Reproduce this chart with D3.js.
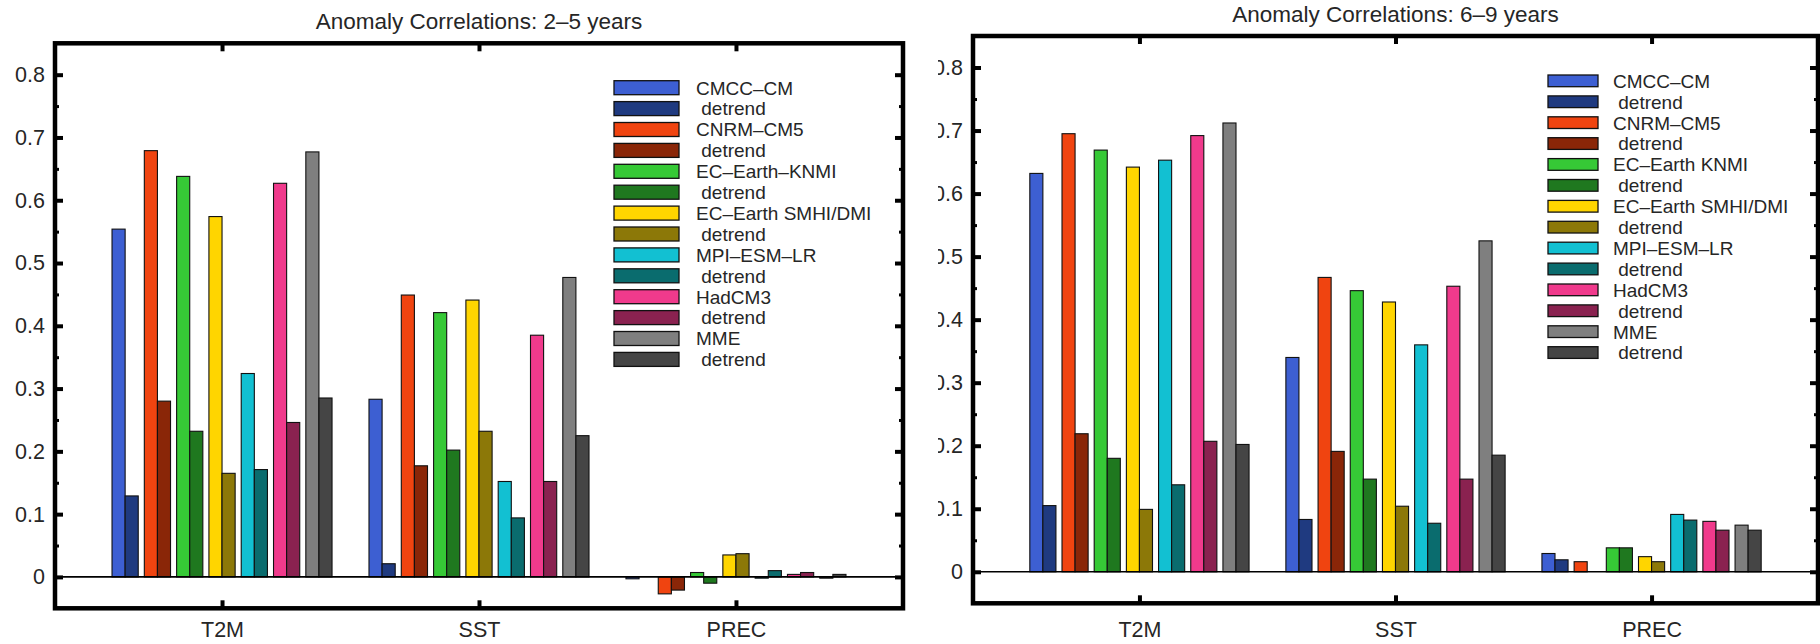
<!DOCTYPE html>
<html>
<head>
<meta charset="utf-8">
<script src="https://cdn.jsdelivr.net/npm/d3@7"></script>
<style>
  html, body { margin: 0; padding: 0; background: #fff; }
  svg { display: block; }
  text { font-family: "Liberation Sans", Arial, Helvetica, sans-serif; fill: #262626; }
</style>
</head>
<body>
<svg id="fig" width="1820" height="644"></svg>
<script>
// Categories along the x axis
const categories = ["T2M", "SST", "PREC"];

// y axis ticks
const yTicks = [0, 0.1, 0.2, 0.3, 0.4, 0.5, 0.6, 0.7, 0.8];
const yTickLabels = ["0", "0.1", "0.2", "0.3", "0.4", "0.5", "0.6", "0.7", "0.8"];
const yMinorTicks = [0.05, 0.15, 0.25, 0.35, 0.45, 0.55, 0.65, 0.75];

// One colour per series (model, then its detrended version)
const seriesColors = [
  "#3d5fd2", "#1f3a80",
  "#f04410", "#8a2608",
  "#36c936", "#1f781f",
  "#ffd500", "#8c7808",
  "#12c0d2", "#0a6c6e",
  "#f03a8c", "#8a2250",
  "#7f7f7f", "#454545"
];

const legendLabels25 = ["CMCC\u2013CM", " detrend", "CNRM\u2013CM5", " detrend", "EC\u2013Earth\u2013KNMI", " detrend",
  "EC\u2013Earth SMHI/DMI", " detrend", "MPI\u2013ESM\u2013LR", " detrend", "HadCM3", " detrend", "MME", " detrend"];
const legendLabels69 = ["CMCC\u2013CM", " detrend", "CNRM\u2013CM5", " detrend", "EC\u2013Earth KNMI", " detrend",
  "EC\u2013Earth SMHI/DMI", " detrend", "MPI\u2013ESM\u2013LR", " detrend", "HadCM3", " detrend", "MME", " detrend"];

// Anomaly correlations, lead years 2-5
const t2m25  = [0.554, 0.129, 0.679, 0.280, 0.638, 0.232, 0.574, 0.165, 0.324, 0.171, 0.627, 0.246, 0.677, 0.285];
const sst25  = [0.283, 0.021, 0.449, 0.177, 0.421, 0.202, 0.441, 0.232, 0.152, 0.094, 0.385, 0.152, 0.477, 0.225];
const prec25 = [-0.003, 0.000, -0.027, -0.021, 0.007, -0.010, 0.035, 0.037, -0.002, 0.010, 0.004, 0.007, -0.002, 0.004];

// Anomaly correlations, lead years 6-9
const t2m69  = [0.632, 0.105, 0.695, 0.219, 0.669, 0.180, 0.642, 0.099, 0.653, 0.138, 0.692, 0.207, 0.712, 0.202];
const sst69  = [0.340, 0.083, 0.467, 0.191, 0.446, 0.147, 0.428, 0.104, 0.360, 0.077, 0.453, 0.147, 0.525, 0.185];
const prec69 = [0.029, 0.019, 0.016, 0.000, 0.038, 0.038, 0.024, 0.016, 0.091, 0.082, 0.080, 0.066, 0.074, 0.066];

const panels = [
  {
    title: "Anomaly Correlations: 2\u20135 years",
    values: [t2m25, sst25, prec25],
    labels: legendLabels25,
    box: { left: 55, right: 903, top: 43.3, bottom: 608.3 },
    titleY: 29,
    legend: { x: 614, y: 80.7, w: 65, h: 14, pitch: 20.9, textX: 696 },
    clipLeft: 0
  },
  {
    title: "Anomaly Correlations: 6\u20139 years",
    values: [t2m69, sst69, prec69],
    labels: legendLabels69,
    box: { left: 973, right: 1818, top: 36, bottom: 603.3 },
    titleY: 22,
    legend: { x: 1548, y: 75, w: 50, h: 11.7, pitch: 20.9, textX: 1613 },
    clipLeft: 938
  }
];

const categoryBaseline = 637;

const svg = d3.select("#fig");
svg.append("rect").attr("width", 1820).attr("height", 644).attr("fill", "#fff");

const pairPitch = 0.1257;  // distance between model pairs, in category units
const barWidth = 0.051;    // width of one bar, in category units

panels.forEach((p, pi) => {
  const b = p.box;
  const x = d3.scaleLinear().domain([0.35, 3.65]).range([b.left, b.right]);
  const y = d3.scaleLinear().domain([-0.05, 0.85]).range([b.bottom, b.top]);

  const clipId = "clip" + pi;
  svg.append("clipPath").attr("id", clipId)
    .append("rect").attr("x", p.clipLeft).attr("y", 0).attr("width", 1820).attr("height", 644);

  const g = svg.append("g").attr("clip-path", `url(#${clipId})`);

  // Title
  g.append("text")
    .attr("x", (b.left + b.right) / 2)
    .attr("y", p.titleY)
    .attr("text-anchor", "middle")
    .style("font-size", "22.5px")
    .text(p.title);

  // Bars
  const bars = [];
  p.values.forEach((vals, ci) => {
    vals.forEach((v, si) => {
      const k = Math.floor(si / 2), j = si % 2;
      const center = (ci + 1) + (k - 3) * pairPitch + (j - 0.5) * barWidth;
      bars.push({ x0: center - barWidth / 2, x1: center + barWidth / 2, v, si });
    });
  });
  g.append("g").selectAll("rect").data(bars).join("rect")
    .attr("x", d => x(d.x0))
    .attr("width", d => x(d.x1) - x(d.x0))
    .attr("y", d => y(Math.max(0, d.v)))
    .attr("height", d => Math.abs(y(d.v) - y(0)))
    .attr("fill", d => seriesColors[d.si])
    .attr("stroke", "#111")
    .attr("stroke-width", 1.1);

  // Zero baseline across the axes
  g.append("line")
    .attr("x1", b.left).attr("x2", b.right)
    .attr("y1", y(0)).attr("y2", y(0))
    .attr("stroke", "#000").attr("stroke-width", 1.6);

  // Left axis: major ticks with labels
  const left = g.append("g").attr("transform", `translate(${b.left},0)`)
    .call(d3.axisLeft(y).tickValues(yTicks)
      .tickFormat((d, i) => yTickLabels[i])
      .tickSizeInner(-8).tickSizeOuter(0).tickPadding(10));
  left.select(".domain").remove();
  left.selectAll(".tick line").attr("stroke", "#000").attr("stroke-width", 4);
  left.selectAll(".tick text").style("font-size", "21.5px").attr("fill", "#262626");

  // Left axis minor ticks
  const leftMinor = g.append("g").attr("transform", `translate(${b.left},0)`)
    .call(d3.axisLeft(y).tickValues(yMinorTicks).tickFormat("").tickSizeInner(-4).tickSizeOuter(0));
  leftMinor.select(".domain").remove();
  leftMinor.selectAll(".tick line").attr("stroke", "#000").attr("stroke-width", 3);

  // Right border ticks
  const right = g.append("g").attr("transform", `translate(${b.right},0)`)
    .call(d3.axisRight(y).tickValues(yTicks).tickFormat("").tickSizeInner(-8).tickSizeOuter(0));
  right.select(".domain").remove();
  right.selectAll(".tick line").attr("stroke", "#000").attr("stroke-width", 4);
  const rightMinor = g.append("g").attr("transform", `translate(${b.right},0)`)
    .call(d3.axisRight(y).tickValues(yMinorTicks).tickFormat("").tickSizeInner(-4).tickSizeOuter(0));
  rightMinor.select(".domain").remove();
  rightMinor.selectAll(".tick line").attr("stroke", "#000").attr("stroke-width", 3);

  // Bottom axis with category labels
  const bottom = g.append("g").attr("transform", `translate(0,${b.bottom})`)
    .call(d3.axisBottom(x).tickValues([1, 2, 3])
      .tickFormat((d, i) => categories[i])
      .tickSizeInner(-8).tickSizeOuter(0));
  bottom.select(".domain").remove();
  bottom.selectAll(".tick line").attr("stroke", "#000").attr("stroke-width", 4);
  bottom.selectAll(".tick text")
    .attr("y", categoryBaseline - b.bottom)
    .attr("dy", null)
    .style("font-size", "21.5px")
    .attr("fill", "#262626");

  // Top border ticks
  const top = g.append("g").attr("transform", `translate(0,${b.top})`)
    .call(d3.axisTop(x).tickValues([1, 2, 3]).tickFormat("").tickSizeInner(-8).tickSizeOuter(0));
  top.select(".domain").remove();
  top.selectAll(".tick line").attr("stroke", "#000").attr("stroke-width", 4);

  // Axes box
  g.append("rect")
    .attr("x", b.left).attr("y", b.top)
    .attr("width", b.right - b.left).attr("height", b.bottom - b.top)
    .attr("fill", "none").attr("stroke", "#000").attr("stroke-width", 4.5);

  // Legend
  const L = p.legend;
  const lg = g.append("g");
  const rows = lg.selectAll("g").data(p.labels).join("g")
    .attr("transform", (d, i) => `translate(0,${L.y + i * L.pitch})`);
  rows.append("rect")
    .attr("x", L.x).attr("y", 0).attr("width", L.w).attr("height", L.h)
    .attr("fill", (d, i) => seriesColors[i])
    .attr("stroke", "#111").attr("stroke-width", 1.3);
  rows.append("text")
    .attr("x", L.textX)
    .attr("y", L.h / 2)
    .attr("dy", "0.36em")
    .style("font-size", "19px")
    .style("white-space", "pre")
    .attr("xml:space", "preserve")
    .text(d => d);
});
</script>
</body>
</html>
